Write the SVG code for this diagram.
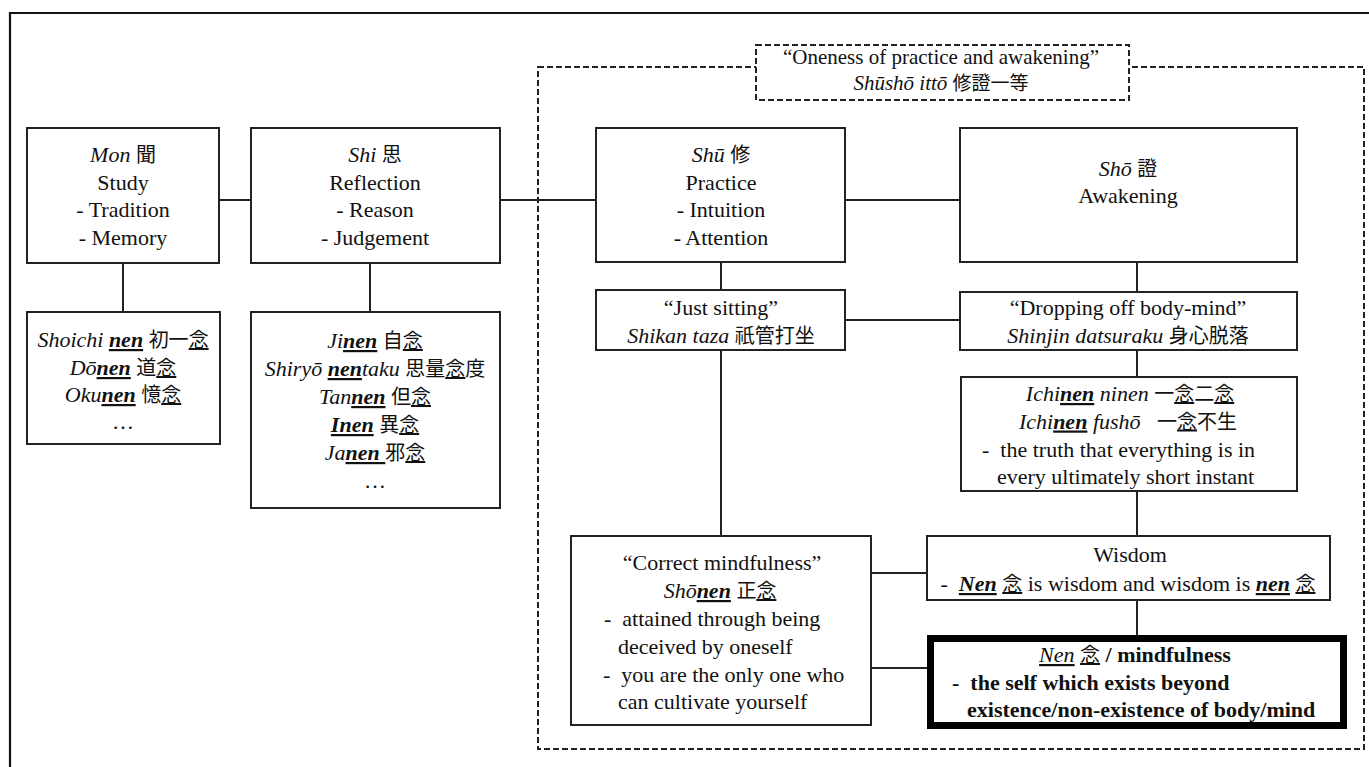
<svg xmlns="http://www.w3.org/2000/svg" width="1369" height="767" viewBox="0 0 1369 767">
<style>
.box{fill:#fff;stroke:#222;stroke-width:2}
.thick{fill:#fff;stroke:#000;stroke-width:7}
.dash{fill:none;stroke:#222;stroke-width:2;stroke-dasharray:6 3}
.dashw{fill:#fff;stroke:#222;stroke-width:2;stroke-dasharray:6 3}
.conn line{stroke:#222;stroke-width:2}
text{font-family:"Liberation Serif","Noto Sans CJK JP",serif;font-size:22px;fill:#111}
.c{text-anchor:middle}
.i{font-style:italic}
.bi{font-style:italic;font-weight:bold;text-decoration:underline}
.iu{font-style:italic;text-decoration:underline}
.u{text-decoration:underline}
.b{font-weight:bold}
.j{font-family:"Noto Sans CJK JP",sans-serif;font-size:20px}
.t{font-size:21px}
.tj{font-family:"Noto Sans CJK JP",sans-serif;font-size:19px}
</style>
<path d="M10,767 V13 H1369" fill="none" stroke="#111" stroke-width="2.2"/>
<rect id="group-frame" class="dash" x="538" y="67" width="826" height="682"/>
<g id="connectors" class="conn">
<line x1="219" y1="200" x2="251" y2="200"/>
<line x1="500" y1="200" x2="596" y2="200"/>
<line x1="845" y1="200" x2="960" y2="200"/>
<line x1="123" y1="263" x2="123" y2="312"/>
<line x1="370" y1="263" x2="370" y2="312"/>
<line x1="721" y1="262" x2="721" y2="290"/>
<line x1="1137" y1="262" x2="1137" y2="292"/>
<line x1="845" y1="320" x2="960" y2="320"/>
<line x1="721" y1="350" x2="721" y2="536"/>
<line x1="1137" y1="350" x2="1137" y2="377"/>
<line x1="1137" y1="491" x2="1137" y2="536"/>
<line x1="1137" y1="600" x2="1137" y2="635"/>
<line x1="871" y1="573" x2="927" y2="573"/>
<line x1="871" y1="668" x2="927" y2="668"/>
</g>
<g id="n-title">
<rect class="dashw" x="756" y="45" width="373" height="55"/>
<text class="c t" x="941" y="63.5">“Oneness of practice and awakening”</text>
<text class="c t" x="941" y="90"><tspan class="i">Shūshō ittō</tspan> <tspan class="tj">修證一等</tspan></text>
</g>
<g id="n-mon">
<rect class="box" x="27" y="128" width="192" height="135"/>
<text class="c" x="123" y="162"><tspan class="i">Mon</tspan> <tspan class="j">聞</tspan></text>
<text class="c" x="123" y="189.5">Study</text>
<text class="c" x="123" y="217">- Tradition</text>
<text class="c" x="123" y="244.5">- Memory</text>
</g>
<g id="n-shi">
<rect class="box" x="251" y="128" width="249" height="135"/>
<text class="c" x="375" y="162"><tspan class="i">Shi</tspan> <tspan class="j">思</tspan></text>
<text class="c" x="375" y="189.5">Reflection</text>
<text class="c" x="375" y="217">- Reason</text>
<text class="c" x="375" y="244.5">- Judgement</text>
</g>
<g id="n-shu">
<rect class="box" x="596" y="128" width="249" height="134"/>
<text class="c" x="721" y="162"><tspan class="i">Shū</tspan> <tspan class="j">修</tspan></text>
<text class="c" x="721" y="189.5">Practice</text>
<text class="c" x="721" y="217">- Intuition</text>
<text class="c" x="721" y="244.5">- Attention</text>
</g>
<g id="n-sho">
<rect class="box" x="960" y="128" width="337" height="134"/>
<text class="c" x="1128" y="176"><tspan class="i">Shō</tspan> <tspan class="j">證</tspan></text>
<text class="c" x="1128" y="203">Awakening</text>
</g>
<g id="n-shoichi">
<rect class="box" x="27" y="312" width="193" height="132"/>
<text class="c" x="123" y="347"><tspan class="i">Shoichi</tspan> <tspan class="bi">nen</tspan> <tspan class="j">初一</tspan><tspan class="j u">念</tspan></text>
<text class="c" x="123" y="375"><tspan class="i">Dō</tspan><tspan class="bi">nen</tspan> <tspan class="j">道</tspan><tspan class="j u">念</tspan></text>
<text class="c" x="123" y="402"><tspan class="i">Oku</tspan><tspan class="bi">nen</tspan> <tspan class="j">憶</tspan><tspan class="j u">念</tspan></text>
<text class="c" x="123" y="429">…</text>
</g>
<g id="n-jinen">
<rect class="box" x="251" y="312" width="249" height="196"/>
<text class="c" x="375" y="348"><tspan class="i">Ji</tspan><tspan class="bi">nen</tspan> <tspan class="j">自</tspan><tspan class="j u">念</tspan></text>
<text class="c" x="375" y="376"><tspan class="i">Shiryō </tspan><tspan class="bi">nen</tspan><tspan class="i">taku</tspan> <tspan class="j">思量</tspan><tspan class="j u">念</tspan><tspan class="j">度</tspan></text>
<text class="c" x="375" y="404"><tspan class="i">Tan</tspan><tspan class="bi">nen</tspan> <tspan class="j">但</tspan><tspan class="j u">念</tspan></text>
<text class="c" x="375" y="432"><tspan class="bi">Inen</tspan> <tspan class="j">異</tspan><tspan class="j u">念</tspan></text>
<text class="c" x="375" y="460" xml:space="preserve"><tspan class="i">Ja</tspan><tspan class="bi">nen </tspan><tspan class="j">邪</tspan><tspan class="j u">念</tspan></text>
<text class="c" x="375" y="488">…</text>
</g>
<g id="n-just">
<rect class="box" x="596" y="290" width="249" height="60"/>
<text class="c" x="721" y="315">“Just sitting”</text>
<text class="c" x="721" y="343"><tspan class="i">Shikan taza</tspan> <tspan class="j">祇管打坐</tspan></text>
</g>
<g id="n-drop">
<rect class="box" x="960" y="292" width="337" height="58"/>
<text class="c" x="1128" y="315">“Dropping off body-mind”</text>
<text class="c" x="1128" y="343"><tspan class="i">Shinjin datsuraku</tspan> <tspan class="j">身心脱落</tspan></text>
</g>
<g id="n-ichinen">
<rect class="box" x="961" y="377" width="336" height="114"/>
<text class="c" x="1130" y="401"><tspan class="i">Ichi</tspan><tspan class="bi">nen</tspan><tspan class="i"> ninen </tspan><tspan class="j">一</tspan><tspan class="j u">念</tspan><tspan class="j">二</tspan><tspan class="j u">念</tspan></text>
<text class="c" x="1128" y="428.5" xml:space="preserve"><tspan class="i">Ichi</tspan><tspan class="bi">nen</tspan><tspan class="i"> fushō</tspan>   <tspan class="j">一</tspan><tspan class="j u">念</tspan><tspan class="j">不生</tspan></text>
<text x="982" y="456.5" xml:space="preserve">-  the truth that everything is in</text>
<text x="997" y="484">every ultimately short instant</text>
</g>
<g id="n-correct">
<rect class="box" x="571" y="536" width="300" height="189"/>
<text class="c" x="722" y="570">“Correct mindfulness”</text>
<text class="c" x="720" y="598"><tspan class="i">Shō</tspan><tspan class="bi">nen</tspan> <tspan class="j">正</tspan><tspan class="j u">念</tspan></text>
<text x="604" y="626" xml:space="preserve">-  attained through being</text>
<text x="618" y="654">deceived by oneself</text>
<text x="603" y="682" xml:space="preserve">-  you are the only one who</text>
<text x="618" y="709">can cultivate yourself</text>
</g>
<g id="n-wisdom">
<rect class="box" x="927" y="536" width="403" height="64"/>
<text class="c" x="1130" y="562">Wisdom</text>
<text class="c" x="1128" y="591" xml:space="preserve">-  <tspan class="bi">Nen</tspan> <tspan class="j u">念</tspan> is wisdom and wisdom is <tspan class="bi">nen</tspan> <tspan class="j u">念</tspan></text>
</g>
<g id="n-nen">
<rect class="thick" x="930.5" y="638.5" width="413" height="87"/>
<text class="c" x="1135" y="662"><tspan class="iu">Nen</tspan> <tspan class="j u">念</tspan><tspan class="b"> / mindfulness</tspan></text>
<text class="b" x="952" y="689.5" xml:space="preserve">-  the self which exists beyond</text>
<text class="b" x="967" y="717">existence/non-existence of body/mind</text>
</g>
</svg>
